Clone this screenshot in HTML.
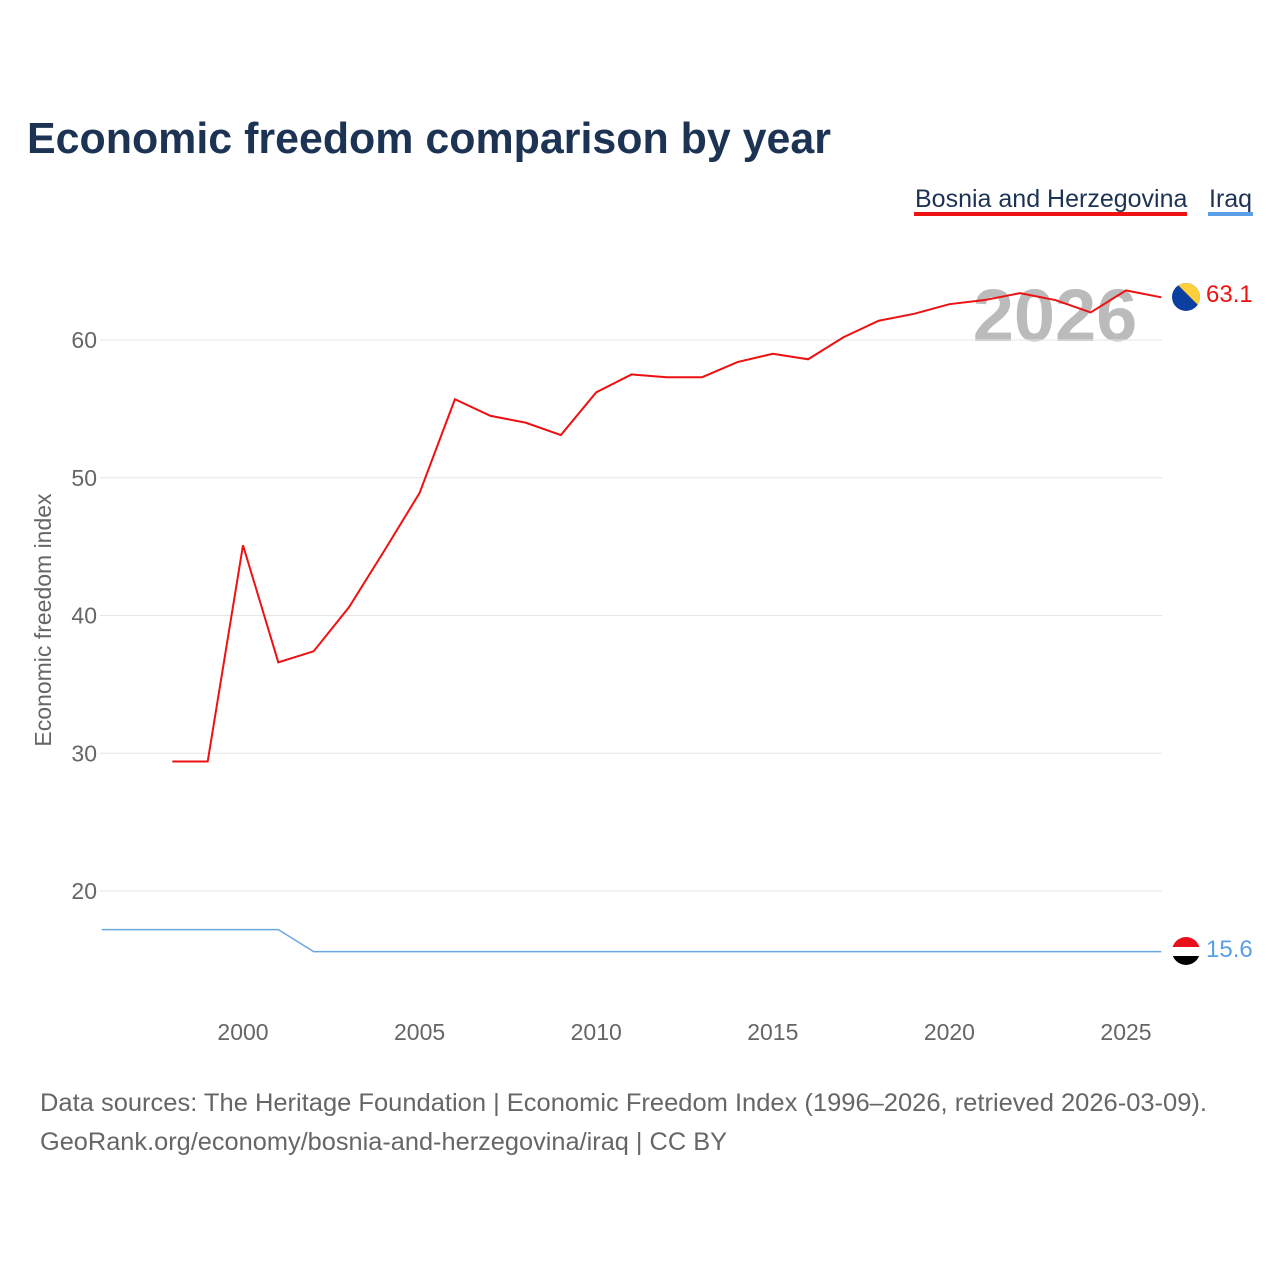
<!DOCTYPE html>
<html><head><meta charset="utf-8">
<style>
body{margin:0;background:#fff;width:1280px;height:1280px;overflow:hidden;font-family:"Liberation Sans",sans-serif}
svg{display:block}
</style></head>
<body>
<svg id="chart" width="1280" height="1280">
<text x="27" y="153" font-size="44" font-weight="bold" fill="#1d3354" textLength="804" lengthAdjust="spacingAndGlyphs">Economic freedom comparison by year</text>
<g>
<text x="915" y="207" font-size="25" fill="#1d3354">Bosnia and Herzegovina</text>
<rect x="914" y="212" width="273" height="4" fill="#ee1111"/>
</g>
<g>
<text x="1209" y="207" font-size="25" fill="#1d3354">Iraq</text>
<rect x="1208" y="212" width="45" height="4" fill="#5ba0e6"/>
</g>
<text x="1055" y="341" font-size="74" font-weight="bold" fill="#bbb" text-anchor="middle">2026</text>
<text transform="translate(51,620) rotate(-90)" font-size="23" fill="#666" text-anchor="middle">Economic freedom index</text>
<g id="grid"></g><g id="lines"></g>
<g>
<clipPath id="c1"><circle cx="1186" cy="297" r="14"/></clipPath>
<g clip-path="url(#c1)"><rect x="1172" y="283" width="28" height="28" fill="#0b3fa0"/><polygon points="1176,283 1200,283 1200,307" fill="#fdd03b"/></g>
</g>
<g>
<clipPath id="c2"><circle cx="1186" cy="951" r="14"/></clipPath>
<g clip-path="url(#c2)"><rect x="1172" y="937" width="28" height="10" fill="#e8101a"/><rect x="1172" y="947" width="28" height="9" fill="#fff"/><rect x="1172" y="956" width="28" height="10" fill="#000"/></g>
</g>
<text x="1206" y="302" font-size="24" fill="#ee1111">63.1</text>
<text x="1206" y="957" font-size="24" fill="#5ba0e6">15.6</text>
<text x="40" y="1111" font-size="25" fill="#666" textLength="1167" lengthAdjust="spacingAndGlyphs">Data sources: The Heritage Foundation | Economic Freedom Index (1996–2026, retrieved 2026-03-09).</text>
<text x="40" y="1150" font-size="25" fill="#666" textLength="687" lengthAdjust="spacingAndGlyphs">GeoRank.org/economy/bosnia-and-herzegovina/iraq | CC BY</text>
</svg>
<script>
const years=[];for(let y=1996;y<=2026;y++)years.push(y);
const bosniaYears=[1998,1999,2000,2001,2002,2003,2004,2005,2006,2007,2008,2009,2010,2011,2012,2013,2014,2015,2016,2017,2018,2019,2020,2021,2022,2023,2024,2025,2026];
const bosnia=[29.4,29.4,45.1,36.6,37.4,40.6,44.7,48.9,55.7,54.5,54.0,53.1,56.2,57.5,57.3,57.3,58.4,59.0,58.6,60.2,61.4,61.9,62.6,62.9,63.4,62.9,62.0,63.6,63.1];
const iraqYears=[1996,2001,2002,2026];
const iraq=[17.2,17.2,15.6,15.6];
const yTicks=[20,30,40,50,60];
const xTicks=[2000,2005,2010,2015,2020,2025];
const X=y=>243+(y-2000)*35.32;
const Y=v=>891-(v-20)*13.775;
const ns="http://www.w3.org/2000/svg";
const grid=document.getElementById('grid'),lines=document.getElementById('lines');
function mk(tag,attrs,parent){const e=document.createElementNS(ns,tag);for(const k in attrs)e.setAttribute(k,attrs[k]);parent.appendChild(e);return e;}
yTicks.forEach(t=>{
 const l=mk('line',{x1:100,x2:1162,y1:Y(t),y2:Y(t),stroke:'#e6e6e6','stroke-width':1},grid);
 
 
 const tx=mk('text',{x:97,y:Y(t)+8,'font-size':23,fill:'#666','text-anchor':'end'},grid);tx.textContent=t;
 
 
});
xTicks.forEach(t=>{
 const tx=mk('text',{x:X(t),y:1040,'font-size':23,fill:'#666','text-anchor':'middle'},grid);tx.textContent=t;
 
 
});
const p1=mk('polyline',{points:bosniaYears.map((y,i)=>X(y)+','+Y(bosnia[i])).join(' '),fill:'none',stroke:'#ee1111','stroke-width':2},lines);


const p2=mk('polyline',{points:iraqYears.map((y,i)=>X(y)+','+Y(iraq[i])).join(' '),fill:'none',stroke:'#6aa6e2','stroke-width':1.5},lines);


</script>
</body></html>
